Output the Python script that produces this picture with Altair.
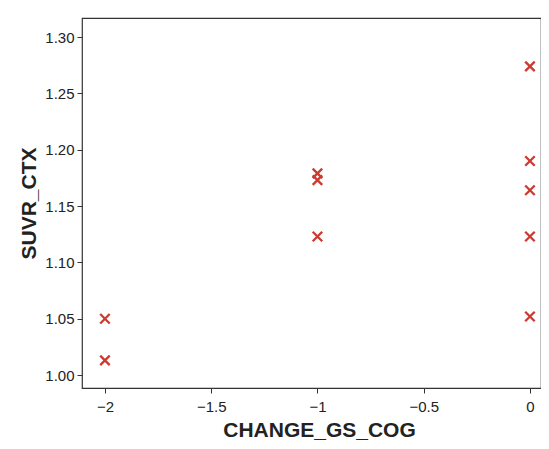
import altair as alt
import pandas as pd

change_gs_cog = [-2, -2, -1, -1, -1, 0, 0, 0, 0, 0]
suvr_ctx = [1.050, 1.013, 1.179, 1.173, 1.123, 1.274, 1.190, 1.164, 1.123, 1.052]

df = pd.DataFrame({"CHANGE_GS_COG": change_gs_cog, "SUVR_CTX": suvr_ctx})

chart = alt.Chart(df).mark_point(
    shape="M-1,-1L1,1M-1,1L1,-1",
    filled=False,
    stroke="#cc3a30",
    strokeWidth=2.3,
    size=90,
    opacity=1,
).encode(
    x=alt.X("CHANGE_GS_COG:Q",
            scale=alt.Scale(domain=[-2.108, 0.052], nice=False, zero=False),
            axis=alt.Axis(values=[-2, -1.5, -1, -0.5, 0], title="CHANGE_GS_COG",
                          format="~g", grid=False, tickSize=5, labelPadding=6, titlePadding=5,
                          titleX=237)),
    y=alt.Y("SUVR_CTX:Q",
            scale=alt.Scale(domain=[0.9885, 1.3169], nice=False, zero=False),
            axis=alt.Axis(values=[1.00, 1.05, 1.10, 1.15, 1.20, 1.25, 1.30], title="SUVR_CTX",
                          format=".2f", grid=False, tickSize=5, labelPadding=3, titlePadding=5)),
).properties(
    width=459,
    height=370,
    autosize=alt.AutoSizeParams(type="none"),
    padding={"left": 74, "top": 10, "right": 0, "bottom": 53},
).configure_view(
    stroke="#333333", strokeWidth=1.2
).configure_axis(
    labelFont="Liberation Sans", titleFont="Liberation Sans",
    labelFontSize=15, titleFontSize=21, titleFontWeight="bold",
    labelColor="#222222", titleColor="#222222",
    domainColor="#333333", tickColor="#333333", domain=False,
)

chart.save("out.html", embed_options={"renderer": "svg", "actions": False})
